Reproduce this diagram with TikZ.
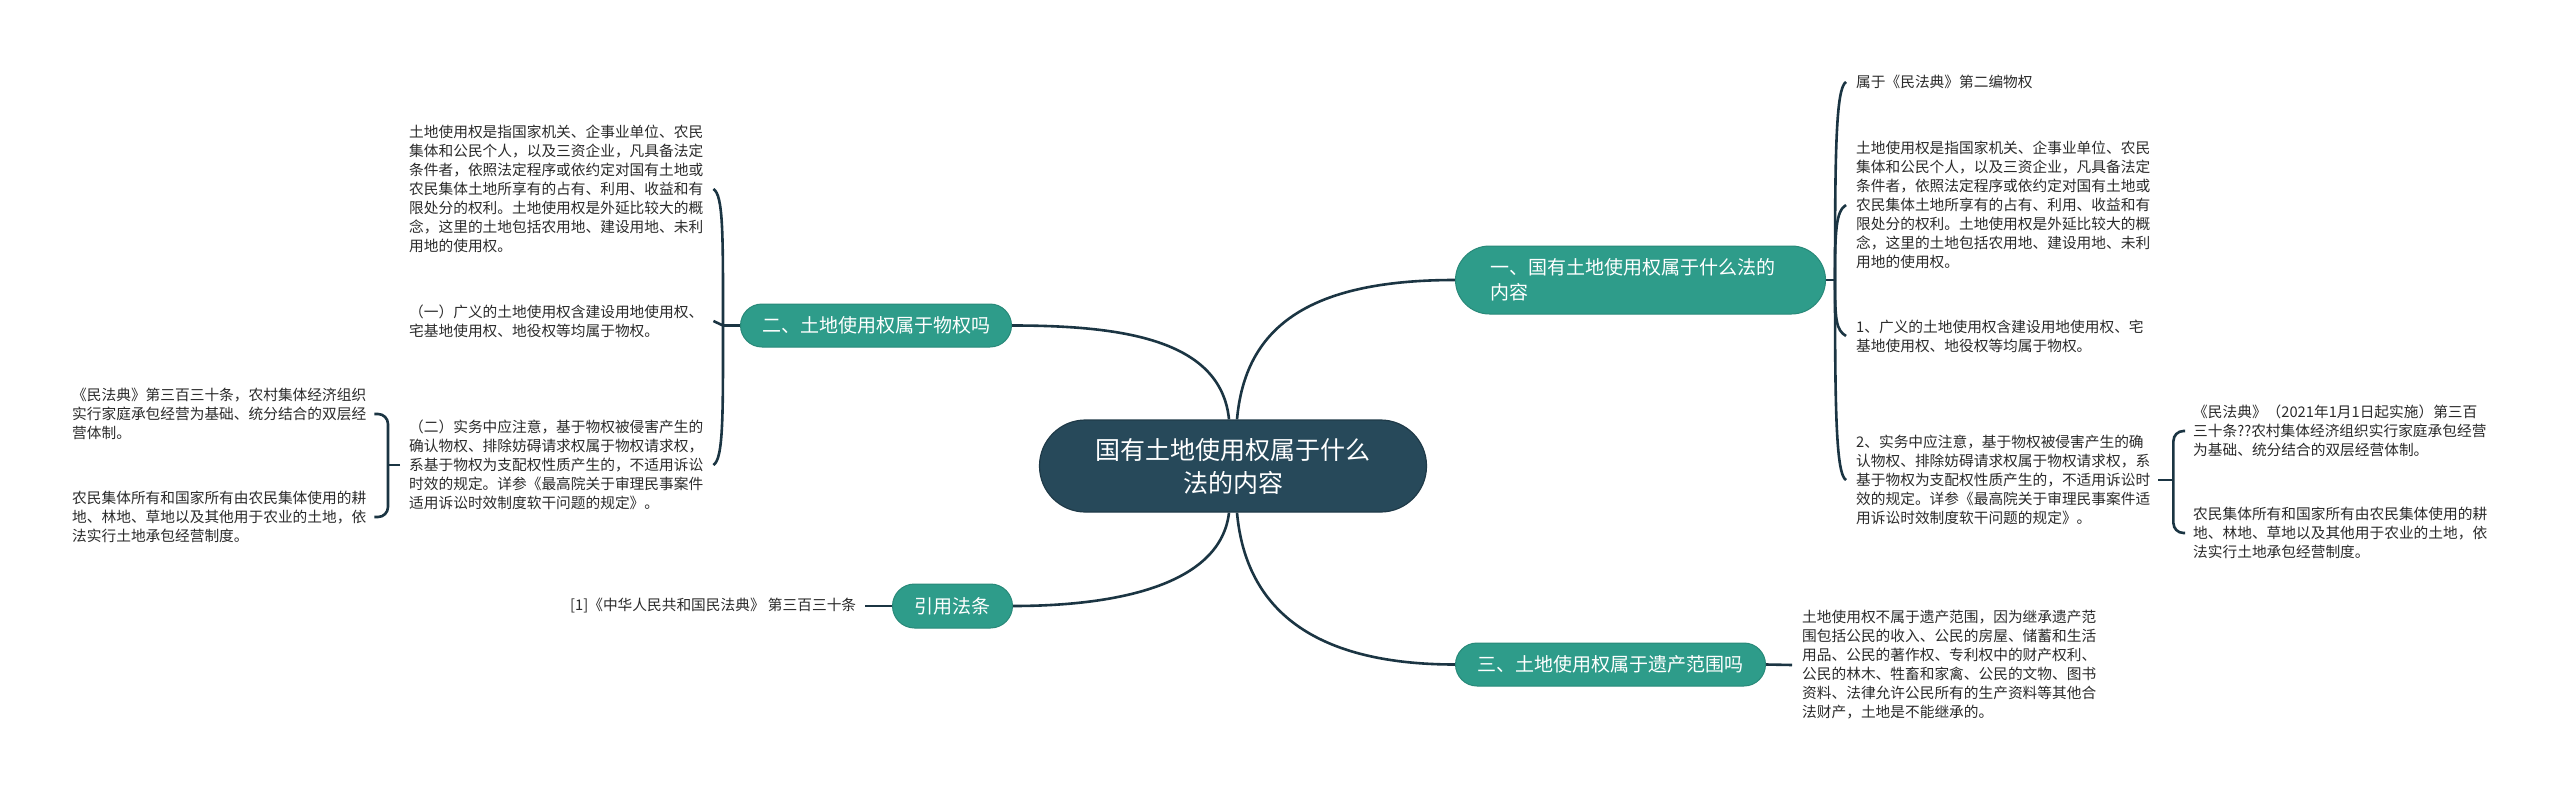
\documentclass[tikz,border=0pt]{standalone}
\usepackage{fontspec}
\setmainfont{Noto Sans CJK SC}
\usetikzlibrary{calc,backgrounds}
\definecolor{ctr}{HTML}{27495A}
\definecolor{br}{HTML}{2E9C8A}
\definecolor{ln}{HTML}{1B3543}
\definecolor{tx}{HTML}{2B2B2B}
\begin{document}
\begin{tikzpicture}[x=1pt,y=-1pt,
  conn/.style={draw=ln, line width=2.6pt},
  leaf/.style={inner sep=0pt, align=left, text=tx, anchor=west, font=\fontsize{14.7}{19}\selectfont},
  pill/.style={fill=br, draw=br!88!black, line width=1pt, text=white, anchor=west, font=\fontsize{19}{25}\selectfont, inner sep=0pt},
  ctrnode/.style={fill=ctr, draw=ctr!80!black, line width=1.2pt, text=white, align=center, minimum width=387pt, minimum height=92pt, rounded corners=46pt, inner sep=0pt, font=\fontsize{25}{33}\selectfont}
]
\useasboundingbox (0,0) rectangle (2560,792);

\node[ctrnode] (c) at (1233,466) {国有土地使用权属于什么\\法的内容};

\node[pill, minimum height=68pt, text width=300pt, inner xsep=35pt, align=left, rounded corners=34pt] (b1) at (1455,280) {一、国有土地使用权属于什么法的\\内容};
\node[pill, minimum width=271pt, minimum height=43pt, rounded corners=21.5pt] (b2) at (740,325.5) {二、土地使用权属于物权吗};
\node[pill, minimum width=120pt, minimum height=44pt, rounded corners=22pt] (b3) at (892,606) {引用法条};
\node[pill, minimum width=310pt, minimum height=43pt, rounded corners=21.5pt] (b4) at (1455,664.5) {三、土地使用权属于遗产范围吗};

\node[leaf] (l1) at (409,189) {土地使用权是指国家机关、企事业单位、农民\\集体和公民个人，以及三资企业，凡具备法定\\条件者，依照法定程序或依约定对国有土地或\\农民集体土地所享有的占有、利用、收益和有\\限处分的权利。土地使用权是外延比较大的概\\念，这里的土地包括农用地、建设用地、未利\\用地的使用权。};
\node[leaf] (l2) at (409,321) {（一）广义的土地使用权含建设用地使用权、\\宅基地使用权、地役权等均属于物权。};
\node[leaf] (l3) at (409,465) {（二）实务中应注意，基于物权被侵害产生的\\确认物权、排除妨碍请求权属于物权请求权，\\系基于物权为支配权性质产生的，不适用诉讼\\时效的规定。详参《最高院关于审理民事案件\\适用诉讼时效制度软干问题的规定》。};
\node[leaf] (l3a) at (72,414) {《民法典》第三百三十条，农村集体经济组织\\实行家庭承包经营为基础、统分结合的双层经\\营体制。};
\node[leaf] (l3b) at (72,517) {农民集体所有和国家所有由农民集体使用的耕\\地、林地、草地以及其他用于农业的土地，依\\法实行土地承包经营制度。};
\node[leaf] (cite) at (570,606) {[1]《中华人民共和国民法典》 第三百三十条};

\node[leaf] (r1a) at (1856,82) {属于《民法典》第二编物权};
\node[leaf] (r1b) at (1856,205) {土地使用权是指国家机关、企事业单位、农民\\集体和公民个人，以及三资企业，凡具备法定\\条件者，依照法定程序或依约定对国有土地或\\农民集体土地所享有的占有、利用、收益和有\\限处分的权利。土地使用权是外延比较大的概\\念，这里的土地包括农用地、建设用地、未利\\用地的使用权。};
\node[leaf] (r1c) at (1856,336) {1、广义的土地使用权含建设用地使用权、宅\\基地使用权、地役权等均属于物权。};
\node[leaf] (r1d) at (1856,480) {2、实务中应注意，基于物权被侵害产生的确\\认物权、排除妨碍请求权属于物权请求权，系\\基于物权为支配权性质产生的，不适用诉讼时\\效的规定。详参《最高院关于审理民事案件适\\用诉讼时效制度软干问题的规定》。};
\node[leaf] (r1d1) at (2193,431) {《民法典》（2021年1月1日起实施）第三百\\三十条??农村集体经济组织实行家庭承包经营\\为基础、统分结合的双层经营体制。};
\node[leaf] (r1d2) at (2193,533) {农民集体所有和国家所有由农民集体使用的耕\\地、林地、草地以及其他用于农业的土地，依\\法实行土地承包经营制度。};
\node[leaf] (r3a) at (1802,665) {土地使用权不属于遗产范围，因为继承遗产范\\围包括公民的收入、公民的房屋、储蓄和生活\\用品、公民的著作权、专利权中的财产权利、\\公民的林木、牲畜和家禽、公民的文物、图书\\资料、法律允许公民所有的生产资料等其他合\\法财产，土地是不能继承的。};

\coordinate (j2) at ($(b2.west)+(-17,0)$);
\coordinate (j1) at ($(b1.east)+(9,0)$);
\coordinate (j3) at ($(l3.west)+(-21,0)$);
\coordinate (jd) at ($(r1d.east)+(23,0)$);

\begin{pgfonlayer}{background}
\fill[white] (0,0) rectangle (2560,792);
\draw[conn] ([xshift=4pt]c.north) .. controls +(8,-90) and +(-150,0) .. (b1.west);
\draw[conn] ([xshift=-4pt]c.north) .. controls +(-8,-80) and +(110,0) .. (b2.east);
\draw[conn] ([xshift=-4pt]c.south) .. controls +(-8,70) and +(110,0) .. (b3.east);
\draw[conn] ([xshift=4pt]c.south) .. controls +(8,90) and +(-150,0) .. (b4.west);

\draw[conn] (b2.west) -- (j2);
\draw[conn] (j2) .. controls +(0,-90) and +(10,6) .. ([xshift=10pt]l1.east);
\draw[conn] (j2) -- ([xshift=10pt]l2.east);
\draw[conn] (j2) .. controls +(0,90) and +(10,-6) .. ([xshift=10pt]l3.east);

\draw[conn] (b1.east) -- (j1);
\draw[conn] (j1) .. controls +(0,-130) and +(-10,6) .. ([xshift=-10pt]r1a.west);
\draw[conn] (j1) .. controls +(0,-50) and +(-10,6) .. ([xshift=-10pt]r1b.west);
\draw[conn] (j1) .. controls +(0,40) and +(-10,-6) .. ([xshift=-10pt]r1c.west);
\draw[conn] (j1) .. controls +(0,130) and +(-10,-6) .. ([xshift=-10pt]r1d.west);

\draw[conn] ([xshift=-9pt]l3.west) -- (j3);
\draw[conn, rounded corners=10pt] ([xshift=8pt]l3a.east) -| (j3) |- ([xshift=8pt]l3b.east);
\draw[conn] ([xshift=8pt]r1d.east) -- (jd);
\draw[conn, rounded corners=10pt] ([xshift=-8pt]r1d1.west) -| (jd) |- ([xshift=-8pt]r1d2.west);

\draw[conn] (b3.west) -- ([xshift=9pt]cite.east);
\draw[conn] (b4.east) -- ([xshift=-10pt]r3a.west);
\end{pgfonlayer}
\end{tikzpicture}
\end{document}
